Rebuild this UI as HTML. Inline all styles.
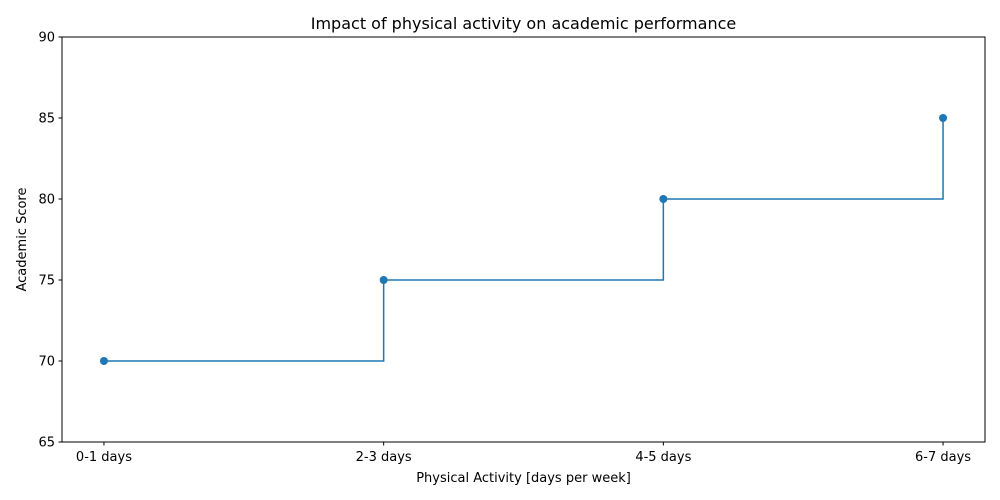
<!DOCTYPE html>
<html><head><meta charset="utf-8"><style>
body{margin:0;background:#fff;}
svg{display:block;font-family:"DejaVu Sans","Liberation Sans",sans-serif;}
</style></head><body>
<svg id="chart" width="1000" height="500" viewBox="0 0 1000 500"></svg>
<script>
const categories = ["0-1 days","2-3 days","4-5 days","6-7 days"];
const scores = [70, 75, 80, 85];
const yTicks = [65, 70, 75, 80, 85, 90];
const title = "Impact of physical activity on academic performance";
const xTitle = "Physical Activity [days per week]";
const yTitle = "Academic Score";

const L=62,R=985,T=37,B=442;
const xmin=-0.15,xmax=3.15,ymin=65,ymax=90;
const xs=i=>L+(i-xmin)/(xmax-xmin)*(R-L);
const ys=v=>B-(v-ymin)/(ymax-ymin)*(B-T);
const svg=document.getElementById('chart');
const NS='http://www.w3.org/2000/svg';
function mk(tag,attrs,parent){const e=document.createElementNS(NS,tag);for(const k in attrs)e.setAttribute(k,attrs[k]);(parent||svg).appendChild(e);return e;}

// step line (post)
let d=`M${xs(0)},${ys(scores[0])}`;
for(let i=1;i<scores.length;i++){d+=` H${xs(i)} V${ys(scores[i])}`;}
const line=mk('path',{d:d,fill:'none',stroke:'#1f77b4','stroke-width':1.5});


scores.forEach((v,i)=>{
  const c=mk('circle',{cx:xs(i),cy:ys(v),r:4,fill:'#1f77b4'});
  
  
});

// frame
const frame=mk('rect',{x:L,y:T,width:R-L,height:B-T,fill:'none',stroke:'#000','stroke-width':1});



// x ticks
categories.forEach((c,i)=>{
  const x=xs(i);
  mk('line',{x1:x,x2:x,y1:B,y2:B+3.5,stroke:'#000'});
  const t=mk('text',{x:x,y:B+19,'text-anchor':'middle','font-size':13});
  t.textContent=c;
  
  
});
// y ticks
yTicks.forEach(v=>{
  const y=ys(v);
  mk('line',{x1:L,x2:L-3.5,y1:y,y2:y,stroke:'#000'});
  const t=mk('text',{x:L-7,y:y+4.5,'text-anchor':'end','font-size':13});
  t.textContent=v;
  
  
});
const tt=mk('text',{x:(L+R)/2,y:29,'text-anchor':'middle','font-size':16});
tt.textContent=title;


const xt=mk('text',{x:(L+R)/2,y:482,'text-anchor':'middle','font-size':13});
xt.textContent=xTitle;


const yt=mk('text',{x:0,y:0,'text-anchor':'middle','font-size':13,transform:`translate(26,${(T+B)/2}) rotate(-90)`});
yt.textContent=yTitle;


</script>
</body></html>
